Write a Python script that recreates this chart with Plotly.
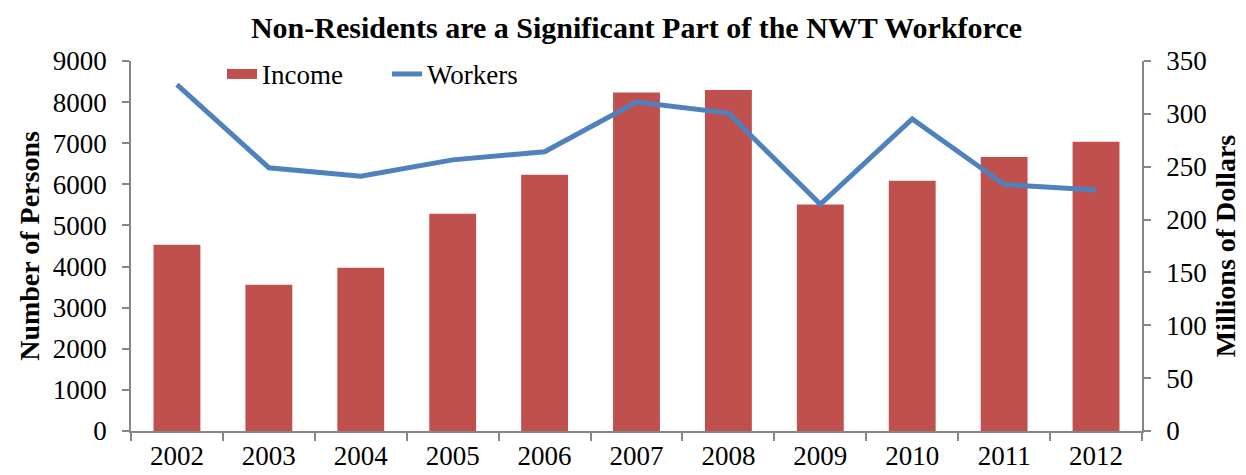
import plotly.graph_objects as go

years = ["2002", "2003", "2004", "2005", "2006", "2007", "2008", "2009", "2010", "2011", "2012"]
income_millions = [176.1, 138.3, 154.4, 205.5, 242.3, 320.3, 322.5, 214.2, 236.7, 259.3, 273.6]
workers = [8425, 6404, 6197, 6595, 6794, 8003, 7733, 5513, 7590, 5998, 5863]

FONT = "Liberation Serif"
AX = "#868686"
RED = "#C0504D"
BLUE = "#4F81BD"

fig = go.Figure()
fig.add_trace(go.Bar(x=years, y=income_millions, name="Income", marker_color=RED,
                     marker_line_width=0, yaxis="y", showlegend=False))
# legend-only entry giving the wide rectangle swatch for Income
fig.add_trace(go.Scatter(x=[None], y=[None], name="Income", mode="lines",
                         line=dict(color=RED, width=14), yaxis="y"))
fig.add_trace(go.Scatter(x=years, y=workers, name="Workers", mode="lines",
                         line=dict(color=BLUE, width=5), yaxis="y2"))

fig.update_layout(
    width=1246, height=475,
    margin=dict(l=123, r=112, t=53, b=43),
    paper_bgcolor="white", plot_bgcolor="white",
    font=dict(family=FONT, size=27, color="black"),
    bargap=0.49,
    title=dict(text="<b>Non-Residents are a Significant Part of the NWT Workforce</b>",
               x=0.5, xref="paper", xanchor="center", y=0.958, yanchor="middle",
               font=dict(family=FONT, size=30)),
    xaxis=dict(type="category", showline=True, linecolor=AX, linewidth=1.5,
               ticks="outside", tickson="boundaries", ticklen=8, tickcolor=AX,
               tickwidth=1.5, showgrid=False, tickfont=dict(size=27)),
    yaxis=dict(side="right", range=[0, 350], dtick=50, showline=True, linecolor=AX,
               linewidth=1.5, ticks="outside", ticklen=7, tickcolor=AX, tickwidth=1.5,
               showgrid=False, zeroline=False, ticklabelstandoff=10,
               title=dict(text="<b>Millions of Dollars</b>", font=dict(size=28), standoff=10)),
    yaxis2=dict(side="left", overlaying="y", range=[0, 9000], dtick=1000, showline=True,
                linecolor=AX, linewidth=1.5, ticks="outside", ticklen=7, tickcolor=AX,
                tickwidth=1.5, showgrid=False, zeroline=False, ticklabelstandoff=10,
                title=dict(text="<b>Number of Persons</b>", font=dict(size=28), standoff=5)),
    legend=dict(orientation="h", x=0.09, y=1.03, xanchor="left", yanchor="top",
                bgcolor="rgba(0,0,0,0)", font=dict(size=27), entrywidth=120,
                entrywidthmode="pixels"),
    showlegend=True,
)

fig.write_html("out.html")
